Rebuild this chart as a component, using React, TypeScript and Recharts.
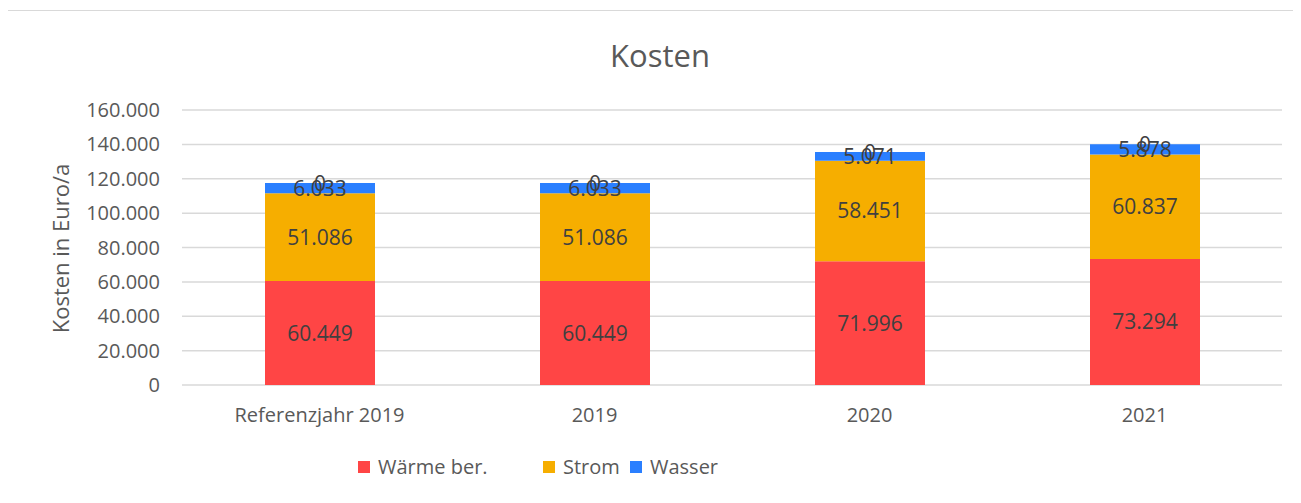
import { Bar, BarChart, CartesianGrid, LabelList, Legend, XAxis, YAxis } from "recharts";

// Kosten per Jahr, gestapelt nach Kostenart.
const categories = ["Referenzjahr 2019", "2019", "2020", "2021"];
const waerme = [60449, 60449, 71996, 73294];
const strom = [51086, 51086, 58451, 60837];
const wasser = [6033, 6033, 5071, 5878];
// Excel hatte noch eine leere Reihe, deren "0"-Label oben auf dem Stapel sitzt
const rest = [0, 0, 0, 0];
const yTicks = [0, 20000, 40000, 60000, 80000, 100000, 120000, 140000, 160000];

const series = [
  { key: "waerme", name: "Wärme ber.", color: "#FF4545" },
  { key: "strom", name: "Strom", color: "#F6AE00" },
  { key: "wasser", name: "Wasser", color: "#2A7FFF" },
];

const data = categories.map((name, i) => ({
  name,
  waerme: waerme[i],
  strom: strom[i],
  wasser: wasser[i],
  rest: rest[i],
}));

const FONT = "'Open Sans', sans-serif";

// 117568 -> "117.568"
const de = (v: number | string) =>
  String(Math.round(Number(v))).replace(/\B(?=(\d{3})+(?!\d))/g, ".");

const YLabel = ({ viewBox }: { viewBox?: { x: number; y: number; height: number } }) => {
  if (!viewBox) return null;
  const x = viewBox.x + 52;
  const y = viewBox.y + viewBox.height / 2 + 1;
  return (
    <text
      x={x}
      y={y}
      transform={`rotate(-90 ${x} ${y})`}
      textAnchor="middle"
      dominantBaseline="central"
      fill="#595959"
      fontSize={22}
      fontFamily={FONT}
    >
      Kosten in Euro/a
    </text>
  );
};

// slot widths copied from the Excel legend, which is not evenly spaced
const legendSlots = [185, 87, 100];

const LegendContent = () => (
  <div style={{ display: "flex", alignItems: "center", fontFamily: FONT, fontSize: 20, color: "#595959" }}>
    {series.map((s, i) => (
      <div key={s.key} style={{ width: legendSlots[i], display: "flex", alignItems: "center" }}>
        <span style={{ width: 12, height: 12, background: s.color, marginRight: 8, display: "inline-block" }} />
        <span style={{ lineHeight: "26px" }}>{s.name}</span>
      </div>
    ))}
  </div>
);

const labelStyle = { fill: "#404040", fontSize: 21, fontFamily: FONT };

export default function App() {
  return (
    <div
      style={{
        position: "relative",
        marginLeft: -1,
        marginTop: 2,
        width: 1294,
        height: 490,
        borderTop: "1px solid #d9d9d9",
        borderLeft: "1px solid #d9d9d9",
        boxSizing: "border-box",
        background: "#fff",
      }}
    >
      <div
        style={{
          position: "absolute",
          left: 552,
          top: 24,
          width: 200,
          lineHeight: "40px",
          textAlign: "center",
          fontFamily: FONT,
          fontSize: 31,
          color: "#595959",
        }}
      >
        Kosten
      </div>
      <BarChart
        width={1292}
        height={489}
        data={data}
        margin={{ top: 99, right: 18, left: 0, bottom: 75 }}
        barSize={110}
      >
        <CartesianGrid vertical={false} stroke="#d9d9d9" strokeWidth={1.5} />
        <XAxis
          dataKey="name"
          height={40}
          axisLine={false}
          tickLine={false}
          tickSize={0}
          tickMargin={23}
          tick={{ fill: "#595959", fontSize: 20, fontFamily: FONT }}
        />
        <YAxis
          width={174}
          domain={[0, 160000]}
          ticks={yTicks}
          interval={0}
          axisLine={false}
          tickLine={false}
          tickSize={0}
          tickMargin={22}
          tickFormatter={de}
          tick={{ fill: "#595959", fontSize: 20, fontFamily: FONT }}
          label={<YLabel />}
        />
        <Legend
          layout="horizontal"
          verticalAlign="middle"
          content={<LegendContent />}
          wrapperStyle={{ left: 350, top: 443, width: 420 }}
        />
        {series.map(s => (
          <Bar key={s.key} dataKey={s.key} name={s.name} stackId="k" fill={s.color} isAnimationActive={false}>
            <LabelList dataKey={s.key} position="center" formatter={de} {...labelStyle} />
            {s.key === "wasser" && (
              // the empty series' label, drawn at the top of the stack
              <LabelList dataKey="rest" position="top" offset={-8} formatter={de} {...labelStyle} />
            )}
          </Bar>
        ))}
        <Bar dataKey="rest" stackId="k" fill="none" legendType="none" isAnimationActive={false} />
      </BarChart>
    </div>
  );
}
